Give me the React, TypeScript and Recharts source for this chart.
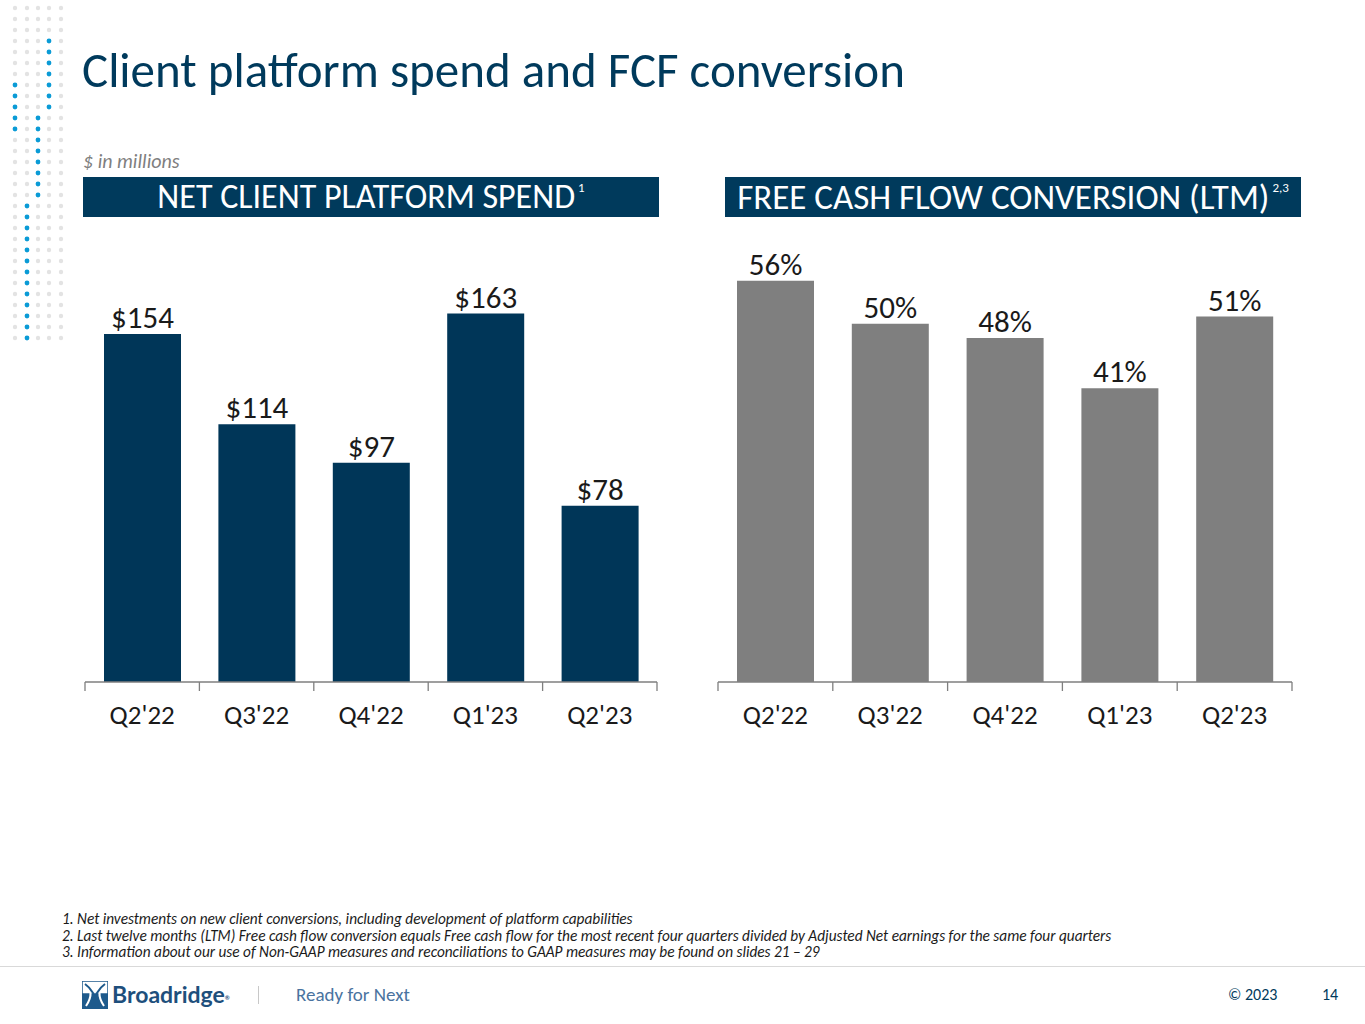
import React from 'react';
import { BarChart, Bar, XAxis, YAxis, LabelList } from 'recharts';

const quarters = ["Q2'22", "Q3'22", "Q4'22", "Q1'23", "Q2'23"];
const platformSpend = [154, 114, 97, 163, 78];
const fcfConversion = [56, 50, 48, 41, 51];

const footnotes = [
  '1.  Net investments on new client conversions, including development of platform capabilities',
  '2.  Last twelve months (LTM) Free cash flow conversion equals Free cash flow for the most recent four quarters divided by Adjusted Net earnings for the same four quarters',
  '3.  Information about our use of Non-GAAP measures and reconciliations to GAAP measures may be found on slides 21 – 29',
];

const FONT = "Carlito, Calibri, 'Liberation Sans Narrow', Lato, sans-serif";
const NAVY = '#003a5c';
const AXIS = '#7f7f7f';

const spendData = quarters.map((q, i) => ({ q, value: platformSpend[i] }));
const fcfData = quarters.map((q, i) => ({ q, value: fcfConversion[i] }));

const CHART_W = 620;
const CHART_H = 540;

// tick marks sit on category boundaries, not centres
const BoundaryTick = (props: any) => {
  const { x, y, payload, index, band, count } = props;
  return (
    <g>
      <line x1={x - band / 2} x2={x - band / 2} y1={y} y2={y + 9} stroke={AXIS} strokeWidth={1.3} />
      {index === count - 1 && (
        <line x1={x + band / 2} x2={x + band / 2} y1={y} y2={y + 9} stroke={AXIS} strokeWidth={1.3} />
      )}
      <text x={x} y={y + 42} textAnchor="middle" fontSize={27} fill="#1a1a1a" fontFamily={FONT}>
        {payload.value}
      </text>
    </g>
  );
};

const Header = ({ left, text, sup, size }: { left: number; text: string; sup: string; size: number }) => (
  <div style={{
    position: 'absolute', left, top: 177, width: 576, height: 40,
    background: NAVY, color: '#fff', fontFamily: FONT, fontSize: size,
    display: 'flex', alignItems: 'center', justifyContent: 'center', lineHeight: '40px',
  }}>
    {text}<span style={{ fontSize: 13, alignSelf: 'flex-start', lineHeight: '22px', marginLeft: 3 }}>{sup}</span>
  </div>
);

const Dots = () => {
  const cols = [15, 27, 38, 49, 61];
  const rows = Array.from({ length: 31 }, (_, i) => 8 + i * 11);
  const blue = (c: number, r: number) =>
    (c === 49 && r > 30 && r < 110) || (c === 38 && r >= 110 && r < 200) ||
    (c === 27 && r >= 200 && r < 345) || (c === 15 && r > 80 && r < 140);
  return (
    <svg width={70} height={350} style={{ position: 'absolute', left: 0, top: 0 }}>
      {cols.map((c) =>
        rows.map((r) => (
          <circle key={`${c}-${r}`} cx={c} cy={r}
            r={blue(c, r) ? 2.4 : 2.2}
            fill={blue(c, r) ? '#0a9bd6' : '#e3e3e3'} />
        ))
      )}
    </svg>
  );
};

export default function App() {
  return (
    <div style={{ position: 'absolute', left: 0, top: 0, width: 1365, height: 1024, background: '#fff', overflow: 'hidden', fontFamily: FONT }}>
      <Dots />
      <div style={{ position: 'absolute', left: 82, top: 40, fontSize: 49, color: NAVY, lineHeight: '60px', whiteSpace: 'nowrap' }}>
        Client platform spend and FCF conversion
      </div>
      <div style={{ position: 'absolute', left: 83, top: 149, fontSize: 20, fontStyle: 'italic', color: '#7f7f7f', lineHeight: '24px' }}>
        $ in millions
      </div>
      <Header left={83} text="NET CLIENT PLATFORM SPEND" sup="1" size={34} />
      <Header left={725} text="FREE CASH FLOW CONVERSION (LTM)" sup="2,3" size={35} />

      <div style={{ position: 'absolute', left: 60, top: 200 }}>
        <BarChart width={CHART_W} height={CHART_H} data={spendData}
          margin={{ top: 30, right: 23, left: 25, bottom: 8 }}>
          <XAxis dataKey="q" height={50} tickSize={0} tickMargin={0} stroke={AXIS} strokeWidth={1.3}
            interval={0} tick={<BoundaryTick band={572 / quarters.length} count={quarters.length} />} />
          <YAxis hide domain={[0, 200]} />
          <Bar dataKey="value" fill="#003658" barSize={77} isAnimationActive={false}>
            <LabelList dataKey="value" position="top" offset={6} formatter={(v: any) => `$${v}`}
              style={{ fontSize: 31, fill: '#1a1a1a', fontFamily: FONT }} />
          </Bar>
        </BarChart>
      </div>

      <div style={{ position: 'absolute', left: 693, top: 200 }}>
        <BarChart width={CHART_W} height={CHART_H} data={fcfData}
          margin={{ top: 52, right: 21, left: 25, bottom: 8 }}>
          <XAxis dataKey="q" height={50} tickSize={0} tickMargin={0} stroke={AXIS} strokeWidth={1.3}
            interval={0} tick={<BoundaryTick band={574 / quarters.length} count={quarters.length} />} />
          <YAxis hide domain={[0, 60]} />
          <Bar dataKey="value" fill="#7f7f7f" barSize={77} isAnimationActive={false}>
            <LabelList dataKey="value" position="top" offset={6} formatter={(v: any) => `${v}%`}
              style={{ fontSize: 31, fill: '#1a1a1a', fontFamily: FONT }} />
          </Bar>
        </BarChart>
      </div>

      <div style={{ position: 'absolute', left: 62, top: 911, fontSize: 15.3, fontStyle: 'italic', color: '#1a1a1a', lineHeight: '16.5px', whiteSpace: 'nowrap' }}>
        {footnotes.map((f) => <div key={f}>{f}</div>)}
      </div>
      <div style={{ position: 'absolute', left: 0, top: 966, width: 1365, height: 1, background: '#d9d9d9' }} />

      <svg width={26} height={28} style={{ position: 'absolute', left: 82, top: 981 }}>
        <rect x={0} y={0} width={26} height={28} fill="#1e5a8c" />
        <rect x={0} y={0} width={26} height={13} fill="#ffffff" stroke="#1e5a8c" strokeWidth={1.5} />
        <path d="M3 3 C10 8 10 16 4 25 M23 3 C16 8 16 16 22 25" stroke="#fff" strokeWidth={2} fill="none" />
        <path d="M3 3 C10 8 10 12 12 13 M23 3 C16 8 16 12 14 13" stroke="#1e5a8c" strokeWidth={2} fill="none" />
      </svg>
      <div style={{ position: 'absolute', left: 112, top: 980, fontSize: 23, fontWeight: 700, color: '#1e4f7c', fontFamily: "Lato, sans-serif" }}>
        Broadridge<span style={{ fontSize: 6, verticalAlign: 'middle' }}>®</span>
      </div>
      <div style={{ position: 'absolute', left: 258, top: 986, width: 1, height: 18, background: '#c8c8c8' }} />
      <div style={{ position: 'absolute', left: 296, top: 983, fontSize: 19, color: '#4a73a0' }}>Ready for Next</div>
      <div style={{ position: 'absolute', left: 1228, top: 985, fontSize: 16, color: NAVY }}>© 2023</div>
      <div style={{ position: 'absolute', left: 1322, top: 985, fontSize: 16, color: NAVY }}>14</div>
    </div>
  );
}
